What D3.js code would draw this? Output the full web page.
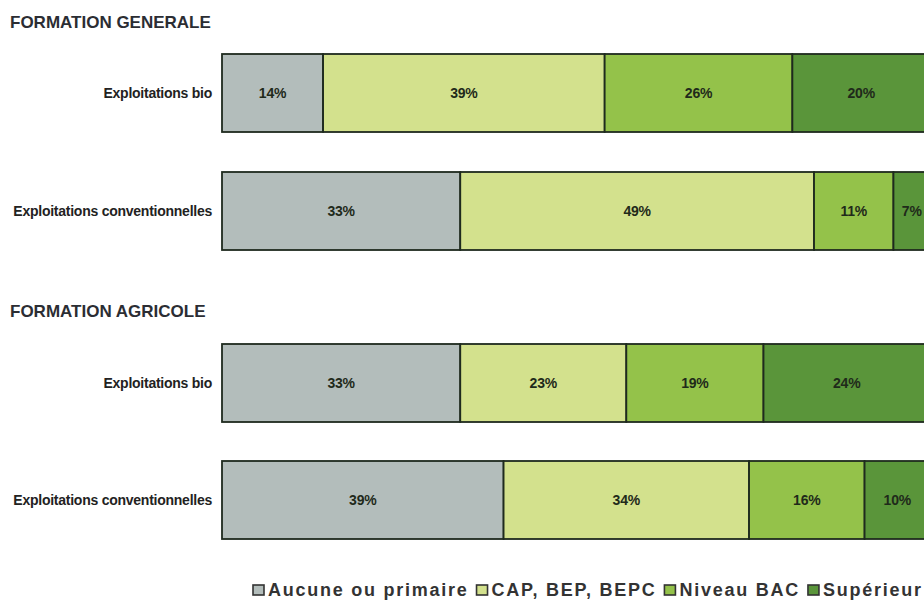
<!DOCTYPE html>
<html><head><meta charset="utf-8">
<script src="https://cdn.jsdelivr.net/npm/d3@7"></script>
<style>
body{margin:0;background:#fff;}
svg{display:block;font-family:"Liberation Sans",Arial,sans-serif;}
</style></head>
<body><svg id="c" width="924" height="601"></svg>
<script>
const sections = ["FORMATION GENERALE", "FORMATION AGRICOLE"];
const rows = ["Exploitations bio", "Exploitations conventionnelles", "Exploitations bio", "Exploitations conventionnelles"];
const levels = ["Aucune ou primaire", "CAP, BEP, BEPC", "Niveau BAC", "Supérieur"];
const aucune    = [14, 33, 33, 39];
const cap       = [39, 49, 23, 34];
const bac       = [26, 11, 19, 16];
const superieur = [20, 7, 24, 10];
const colors = ["#b3bdbb", "#d3e18d", "#94c24a", "#5a953a"];

const svg = d3.select("#c");
const x = d3.scaleLinear().domain([0, 100]).range([222, 944]);
const y = d3.scaleOrdinal().domain(d3.range(4)).range([54, 172, 344, 461]);
const barH = 78;

const table = rows.map((r, i) => ({row: r, i, vals: [aucune[i], cap[i], bac[i], superieur[i]]}));
const stack = d3.stack().keys(d3.range(4)).value((d, k) => d.vals[k]);
const series = stack(table);

// section titles
svg.selectAll("text.sec").data(sections).join("text")
  .attr("class", "sec")
  .attr("x", 10).attr("y", (d, i) => i === 0 ? 28 : 317)
  .attr("font-size", 17).attr("font-weight", "bold").attr("fill", "#2b2d33")
  .text(d => d);

// row labels
svg.selectAll("text.row").data(table).join("text")
  .attr("class", "row")
  .attr("x", 212).attr("y", d => y(d.i) + barH / 2 + 5)
  .attr("text-anchor", "end")
  .attr("font-size", 14).attr("font-weight", "bold").attr("fill", "#222")
  .attr("letter-spacing", -0.25)
  .text(d => d.row);

const g = svg.append("g");
series.forEach((s, k) => {
  g.selectAll(null).data(s).join("rect")
    .attr("x", d => x(d[0])).attr("y", (d, i) => y(i))
    .attr("width", d => x(d[1]) - x(d[0])).attr("height", barH)
    .attr("fill", colors[k]).attr("stroke", "#1e2a1e").attr("stroke-width", 1.8);
  g.selectAll(null).data(s).join("text")
    .attr("x", d => (x(d[0]) + Math.min(x(d[1]), 930)) / 2)
    .attr("y", (d, i) => y(i) + barH / 2 + 5)
    .attr("text-anchor", "middle")
    .attr("font-size", 14).attr("font-weight", "bold").attr("fill", "#1f2a1a")
    .attr("letter-spacing", -0.2)
    .text(d => (d[1] - d[0]) + "%");
});

// legend
const lg = svg.append("g");
let lx = 253;
levels.forEach((l, k) => {
  lg.append("rect").attr("x", lx).attr("y", 585).attr("width", 11).attr("height", 10)
    .attr("fill", colors[k]).attr("stroke", "#333").attr("stroke-width", 1.6);
  const t = lg.append("text").attr("x", lx + 15).attr("y", 596)
    .attr("font-size", 18).attr("font-weight", "bold").attr("fill", "#333")
    .attr("letter-spacing", 1.75).text(l);
  lx += 15 + t.node().getComputedTextLength() + 8;
});
</script></body></html>
